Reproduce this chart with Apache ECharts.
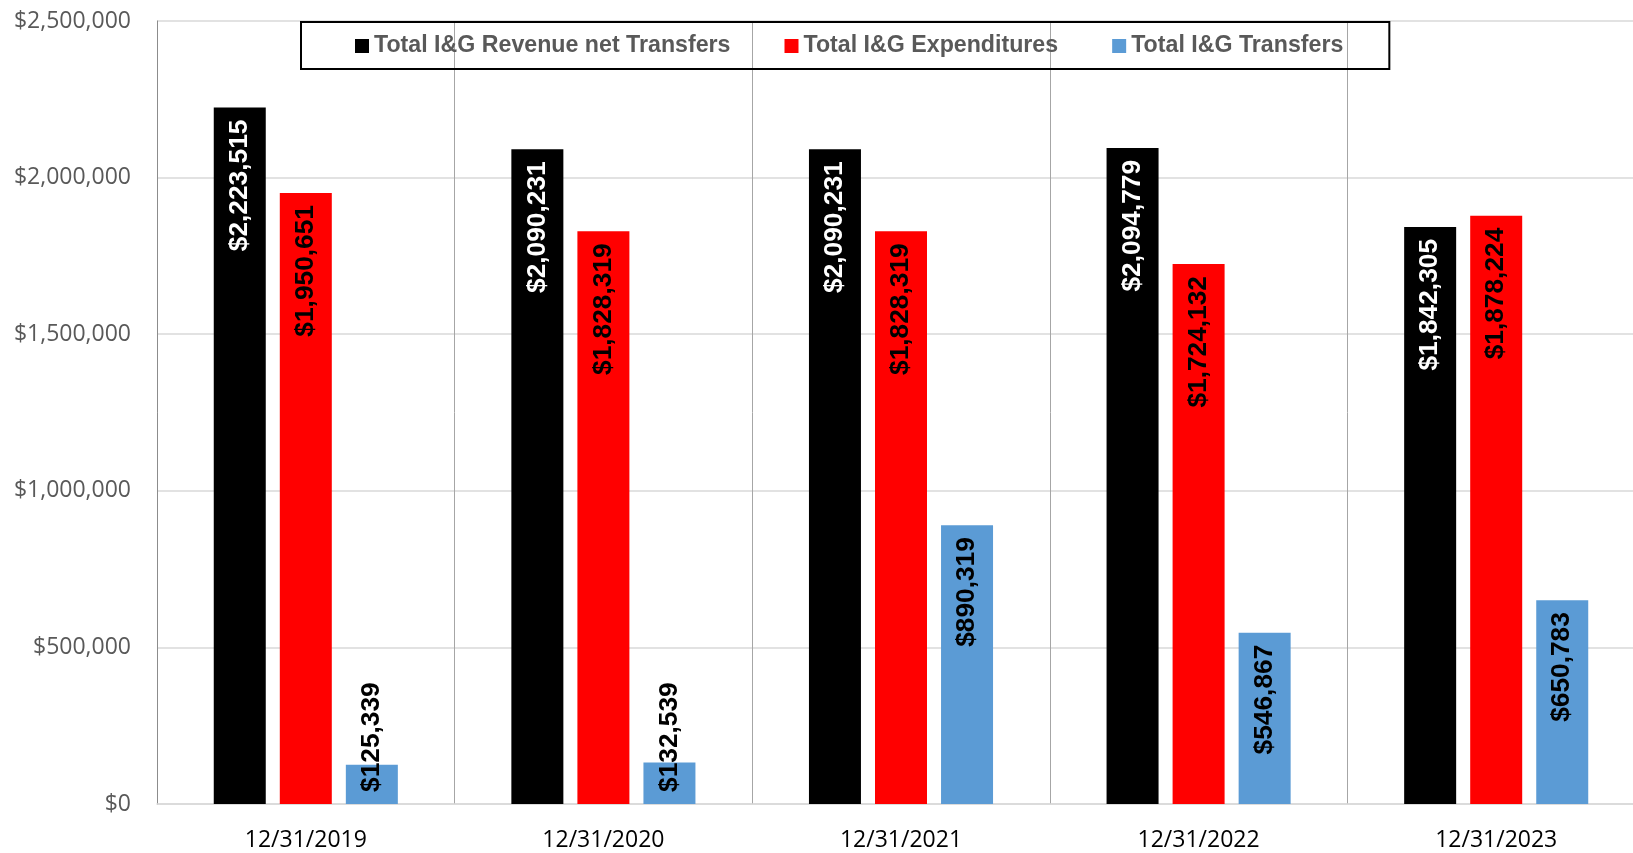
<!DOCTYPE html>
<html>
<head>
<meta charset="utf-8">
<script src="https://cdn.jsdelivr.net/npm/echarts@6/dist/echarts.min.js"></script>
<style>html,body{margin:0;padding:0;background:#fff;}#c{width:1633px;height:853px;}</style>
</head>
<body>
<div id="c"></div>
<script>
const categories = ['12/31/2019', '12/31/2020', '12/31/2021', '12/31/2022', '12/31/2023'];
const seriesNames = ['Total I&G Revenue net Transfers', 'Total I&G Expenditures', 'Total I&G Transfers'];
const revenueNetTransfers = [2223515, 2090231, 2090231, 2094779, 1842305];
const expenditures = [1950651, 1828319, 1828319, 1724132, 1878224];
const transfers = [125339, 132539, 890319, 546867, 650783];
const yTicks = [0, 500000, 1000000, 1500000, 2000000, 2500000];

const colors = ['#000000', '#FF0000', '#5B9BD5'];
const labelColors = ['#FFFFFF', '#000000', '#000000'];

function money(v) { return '$' + Math.round(v).toLocaleString('en-US'); }

function makeSeries(name, data, idx) {
  return {
    name: name,
    type: 'bar',
    barWidth: 52,
    barGap: '27%',
    itemStyle: { color: colors[idx] },
    label: {
      show: true,
      position: 'insideTop',
      rotate: 90,
      align: 'right',
      verticalAlign: 'middle',
      distance: 12,
      color: labelColors[idx],
      fontFamily: 'Liberation Sans, Arial, sans-serif',
      fontWeight: 'bold',
      fontSize: 26.3,
      formatter: p => money(p.value)
    },
    labelLayout: { hideOverlap: false },
    data: data.map(v => v < 300000 ? {
      value: v,
      label: { position: 'insideBottom', align: 'left', distance: 12 }
    } : v)
  };
}

const chart = echarts.init(document.getElementById('c'), null, { renderer: 'canvas' });
chart.setOption({
  animation: false,
  backgroundColor: '#ffffff',
  grid: { left: 157, width: 1488, top: 21, bottom: 49, containLabel: false, outerBoundsMode: 'none' },
  legend: {
    data: seriesNames,
    left: 301,
    top: 22,
    icon: 'rect',
    itemWidth: 14,
    itemHeight: 14,
    itemGap: 54,
    padding: [12, 46, 11, 54],
    borderColor: '#000000',
    borderWidth: 2,
    backgroundColor: 'transparent',
    textStyle: {
      fontFamily: 'Liberation Sans, Arial, sans-serif',
      fontWeight: 'bold',
      fontSize: 23.2,
      lineHeight: 24,
      color: '#595959'
    }
  },
  xAxis: {
    type: 'category',
    data: categories,
    axisLine: { show: true, lineStyle: { color: '#D9D9D9', width: 1.5 } },
    axisTick: { show: false },
    splitLine: { show: true, interval: 0, lineStyle: { color: '#A6A6A6', width: 1 } },
    axisLabel: {
      interval: 0,
      margin: 25,
      fontFamily: 'Open Sans, sans-serif',
      fontSize: 23,
      color: '#000000'
    }
  },
  yAxis: {
    type: 'value',
    min: yTicks[0],
    max: yTicks[yTicks.length - 1],
    interval: yTicks[1] - yTicks[0],
    axisLine: { show: true, lineStyle: { color: '#8C8C8C', width: 1 } },
    axisTick: { show: false },
    splitLine: { show: true, lineStyle: { color: '#D9D9D9', width: 1.5 } },
    axisLabel: {
      margin: 26,
      fontFamily: 'Open Sans, sans-serif',
      fontSize: 23,
      color: '#595959',
      formatter: v => money(v)
    }
  },
  series: [
    makeSeries(seriesNames[0], revenueNetTransfers, 0),
    makeSeries(seriesNames[1], expenditures, 1),
    makeSeries(seriesNames[2], transfers, 2)
  ]
});
</script>
</body>
</html>
